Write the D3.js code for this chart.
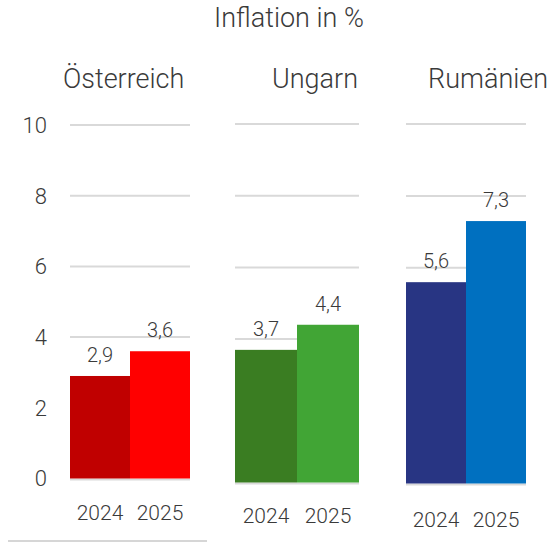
<!DOCTYPE html>
<html>
<head>
<meta charset="utf-8">
<script src="https://cdn.jsdelivr.net/npm/d3@7"></script>
<style>
  body { margin: 0; background: #fff; }
  text { font-family: Roboto, "Noto Sans", sans-serif; font-weight: 300; fill: #3a3a3a; }
</style>
</head>
<body>
<div id="chart"></div>
<script>
// data
const countries = ["Österreich", "Ungarn", "Rumänien"];
const years = ["2024", "2025"];
const inflation2024 = [2.9, 3.7, 5.6];
const inflation2025 = [3.6, 4.4, 7.3];
const yTicks = [0, 2, 4, 6, 8, 10];
const colors2024 = ["#c00000", "#3a7d22", "#283583"];
const colors2025 = ["#ff0000", "#41a535", "#0070c0"];

// layout of the three small panels (left, right, zero line, top line)
const panels = [
  { x0: 70, x1: 190, y0: 478.5, y10: 125, yearY: 520, headX: 63 },
  { x0: 235, x1: 359, y0: 482.5, y10: 124, yearY: 523, headX: 272 },
  { x0: 406, x1: 526, y0: 483.5, y10: 124, yearY: 527, headX: 428 }
];

const W = 553, H = 542;
const svg = d3.select("#chart").append("svg")
  .attr("width", W).attr("height", H);

// title
svg.append("text")
  .attr("x", 289).attr("y", 27)
  .attr("text-anchor", "middle")
  .style("font-size", "27px")
  .text("Inflation in %");

// y axis labels (use first panel's scale)
const yAxisScale = d3.scaleLinear().domain([0, 10]).range([panels[0].y0, panels[0].y10]);
svg.append("g").selectAll("text")
  .data(yTicks)
  .enter().append("text")
  .attr("x", 47)
  .attr("y", d => yAxisScale(d))
  .attr("dy", "0.36em")
  .attr("text-anchor", "end")
  .style("font-size", "22px")
  .text(d => d);

countries.forEach(function (name, i) {
  const p = panels[i];
  const g = svg.append("g");
  const values = [inflation2024[i], inflation2025[i]];
  const fills = [colors2024[i], colors2025[i]];

  const x = d3.scaleBand().domain(years).range([p.x0, p.x1]).padding(0);
  const y = d3.scaleLinear().domain([0, 10]).range([p.y0, p.y10]);

  // gridlines
  g.selectAll(".grid")
    .data(yTicks.filter(d => d > 0))
    .enter().append("line")
    .attr("x1", p.x0).attr("x2", p.x1)
    .attr("y1", d => y(d)).attr("y2", d => y(d))
    .attr("stroke", "#d9d9d9")
    .attr("stroke-width", 2);

  // baseline
  g.append("line")
    .attr("x1", p.x0).attr("x2", p.x1)
    .attr("y1", y(0) + 1).attr("y2", y(0) + 1)
    .attr("stroke", "#d9d9d9")
    .attr("stroke-width", 2);

  // bars
  g.selectAll(".bar")
    .data(years)
    .enter().append("rect")
    .attr("x", d => x(d))
    .attr("width", x.bandwidth())
    .attr("y", (d, j) => y(values[j]))
    .attr("height", (d, j) => y(0) - y(values[j]))
    .attr("fill", (d, j) => fills[j]);

  // value labels
  g.selectAll(".val")
    .data(years)
    .enter().append("text")
    .attr("x", d => x(d) + x.bandwidth() / 2)
    .attr("y", (d, j) => y(values[j]) - 14)
    .attr("text-anchor", "middle")
    .style("font-size", "20px")
    .text((d, j) => String(values[j]).replace(".", ","));

  // year labels
  g.selectAll(".year")
    .data(years)
    .enter().append("text")
    .attr("x", d => x(d) + x.bandwidth() / 2)
    .attr("y", p.yearY)
    .attr("text-anchor", "middle")
    .style("font-size", "21px")
    .text(d => d);

  // header
  g.append("text")
    .attr("x", p.headX)
    .attr("y", 88)
    .style("font-size", "27px")
    .text(name);
});

// thin rule at the very bottom
svg.append("line")
  .attr("x1", 8).attr("x2", 207)
  .attr("y1", 541).attr("y2", 541)
  .attr("stroke", "#c8c8c8")
  .attr("stroke-width", 1.5);
</script>
</body>
</html>
